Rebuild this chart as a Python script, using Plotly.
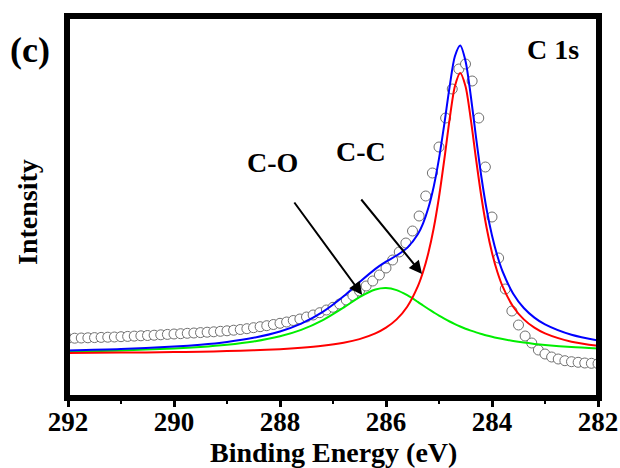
import plotly.graph_objects as go

# Measured XPS C 1s spectrum (open circles)
energy_meas = [292.0, 291.875, 291.75, 291.625, 291.5, 291.375, 291.25, 291.125, 291.0, 290.875,
               290.75, 290.625, 290.5, 290.375, 290.25, 290.125, 290.0, 289.875, 289.75, 289.625,
               289.5, 289.375, 289.25, 289.125, 289.0, 288.875, 288.75, 288.625, 288.5, 288.375,
               288.25, 288.125, 288.0, 287.875, 287.75, 287.625, 287.5, 287.375, 287.25, 287.125,
               287.0, 286.875, 286.75, 286.625, 286.5, 286.375, 286.25, 286.125, 286.0, 285.875,
               285.75, 285.625, 285.5, 285.375, 285.25, 285.125, 285.0, 284.875, 284.75, 284.625,
               284.5, 284.375, 284.25, 284.125, 284.0, 283.875, 283.75, 283.625, 283.5, 283.375,
               283.25, 283.125, 283.0, 282.875, 282.75, 282.625, 282.5, 282.375, 282.25, 282.125,
               282.0]
intensity_meas = [58.6, 58.8, 59.0, 59.2, 59.4, 59.6, 59.8, 60.0, 60.3, 60.6,
                  60.9, 61.2, 61.5, 61.8, 62.2, 62.6, 63.0, 63.3, 63.7, 64.0,
                  64.4, 64.8, 65.2, 65.7, 66.2, 66.8, 67.5, 68.3, 69.3, 70.3,
                  71.3, 72.5, 73.7, 75.0, 76.5, 78.0, 80.0, 82.0, 84.3, 87.0,
                  89.7, 93.0, 97.0, 101.5, 106.0, 111.0, 116.0, 122.0, 129.0, 137.0,
                  145.0, 154.0, 166.0, 181.0, 201.0, 224.0, 250.0, 279.0, 308.0, 328.0,
                  333.0, 316.0, 279.0, 230.0, 180.0, 139.0, 108.0, 86.0, 72.0, 61.0,
                  54.0, 47.0, 43.0, 40.0, 38.0, 36.3, 35.3, 34.7, 34.0, 33.7,
                  33.3]

# Fitted components
energy_fit = [292.0, 291.0, 290.0, 289.5, 289.0, 288.5, 288.0, 287.6, 287.2, 286.8,
              286.5, 286.2, 286.0, 285.8, 285.6, 285.4, 285.3, 285.2, 285.1, 285.0,
              284.9, 284.8, 284.7, 284.6, 284.5, 284.4, 284.3, 284.2, 284.1, 284.0,
              283.9, 283.8, 283.6, 283.4, 283.2, 283.0, 282.5, 282.0]
cc_fit = [44.0, 44.4, 44.9, 45.3, 45.9, 46.7, 47.8, 49.2, 51.2, 54.3,
          57.9, 63.6, 69.3, 77.6, 90.3, 110.6, 125.2, 144.2, 168.7, 200.0,
          237.5, 277.6, 310.8, 324.0, 310.8, 277.6, 237.5, 200.0, 168.7, 144.2,
          125.2, 110.6, 90.3, 77.6, 69.3, 63.6, 55.3, 51.2]
co_fit = [45.6, 46.6, 48.5, 50.0, 52.2, 55.5, 60.7, 67.1, 76.6, 89.4,
          99.9, 107.5, 109.0, 106.9, 101.8, 95.1, 91.5, 88.0, 84.6, 81.3,
          78.3, 75.5, 72.9, 70.5, 68.3, 66.4, 64.6, 63.0, 61.5, 60.2,
          59.0, 57.9, 56.0, 54.4, 53.1, 52.0, 49.9, 48.4]
envelope_fit = [46.6, 48.0, 50.4, 52.3, 55.1, 59.2, 65.5, 73.3, 84.8, 100.7,
                114.8, 128.1, 135.3, 141.5, 149.1, 162.7, 173.7, 189.2, 210.3, 238.3,
                272.8, 310.1, 340.7, 351.5, 336.1, 301.0, 259.1, 220.0, 187.2, 161.4,
                141.2, 125.5, 103.3, 89.0, 79.4, 72.6, 62.2, 56.6]

x_ticks = [292, 290, 288, 286, 284, 282]

FONT = "Liberation Serif, Times New Roman, serif"

fig = go.Figure()
fig.add_trace(go.Scatter(x=energy_meas, y=intensity_meas, mode="markers",
                         marker=dict(symbol="circle", size=10, color="white",
                                     line=dict(color="#707070", width=1)),
                         showlegend=False))
fig.add_trace(go.Scatter(x=energy_fit, y=co_fit, mode="lines",
                         line=dict(color="#00ee00", width=2, shape="spline", smoothing=0.8),
                         showlegend=False))
fig.add_trace(go.Scatter(x=energy_fit, y=cc_fit, mode="lines",
                         line=dict(color="#ff0000", width=2, shape="spline", smoothing=0.8),
                         showlegend=False))
fig.add_trace(go.Scatter(x=energy_fit, y=envelope_fit, mode="lines",
                         line=dict(color="#0000ff", width=2, shape="spline", smoothing=0.8),
                         showlegend=False))

bold = dict(family=FONT, size=28, color="black", weight="bold")
tickbold = dict(family=FONT, size=27, color="black", weight="bold")

fig.update_layout(
    width=620, height=468,
    margin=dict(l=68, r=22, t=17, b=71),
    paper_bgcolor="white", plot_bgcolor="white",
    font=dict(family=FONT, color="black"),
    xaxis=dict(range=[292, 282], tickvals=x_ticks, ticktext=[str(v) for v in x_ticks],
               ticks="outside", ticklen=6, tickwidth=3, tickcolor="black",
               minor=dict(dtick=1, ticks="outside", ticklen=3, tickwidth=2, tickcolor="black"),
               showline=True, linewidth=4, linecolor="black", mirror=True,
               showgrid=False, zeroline=False, automargin=False,
               ticklabelstandoff=-8,
               tickfont=tickbold),
    yaxis=dict(range=[0, 380], showticklabels=False, ticks="",
               showline=True, linewidth=4, linecolor="black", mirror=True,
               showgrid=False, zeroline=False, automargin=False),
    shapes=[dict(type="rect", xref="paper", yref="paper", x0=0, x1=1, y0=0, y1=1,
                 line=dict(color="black", width=4), layer="above")],
)

arrow = dict(showarrow=True, arrowhead=2, arrowsize=1.3, arrowwidth=2, arrowcolor="black",
             axref="x", ayref="y", xref="x", yref="y", text="")
fig.add_annotation(x=286.45, y=102, ax=287.75, ay=196, **arrow)
fig.add_annotation(x=285.32, y=123, ax=286.49, ay=199, **arrow)

fig.add_annotation(x=288.15, y=235, xref="x", yref="y", text="C-O", showarrow=False, font=bold)
fig.add_annotation(x=286.47, y=246, xref="x", yref="y", text="C-C", showarrow=False, font=bold)
fig.add_annotation(x=282.85, y=348, xref="x", yref="y", text="C 1s", showarrow=False, font=bold)
fig.add_annotation(x=-0.0717, y=0.913, xref="paper", yref="paper", text="(c)", showarrow=False,
                   xanchor="center", yanchor="middle",
                   font=dict(family=FONT, size=36, color="black", weight="bold"))
# axis titles
fig.add_annotation(x=0.5, y=-0.146, xref="paper", yref="paper", text="Binding Energy (eV)",
                   showarrow=False, xanchor="center", yanchor="middle", font=bold)
fig.add_annotation(x=-0.0755, y=0.487, xref="paper", yref="paper", text="Intensity",
                   showarrow=False, xanchor="center", yanchor="middle", textangle=-90, font=bold)

fig.write_html("out.html", config={"displayModeBar": False},
               post_script="document.body.style.margin='0px';document.body.style.overflow='hidden';")
